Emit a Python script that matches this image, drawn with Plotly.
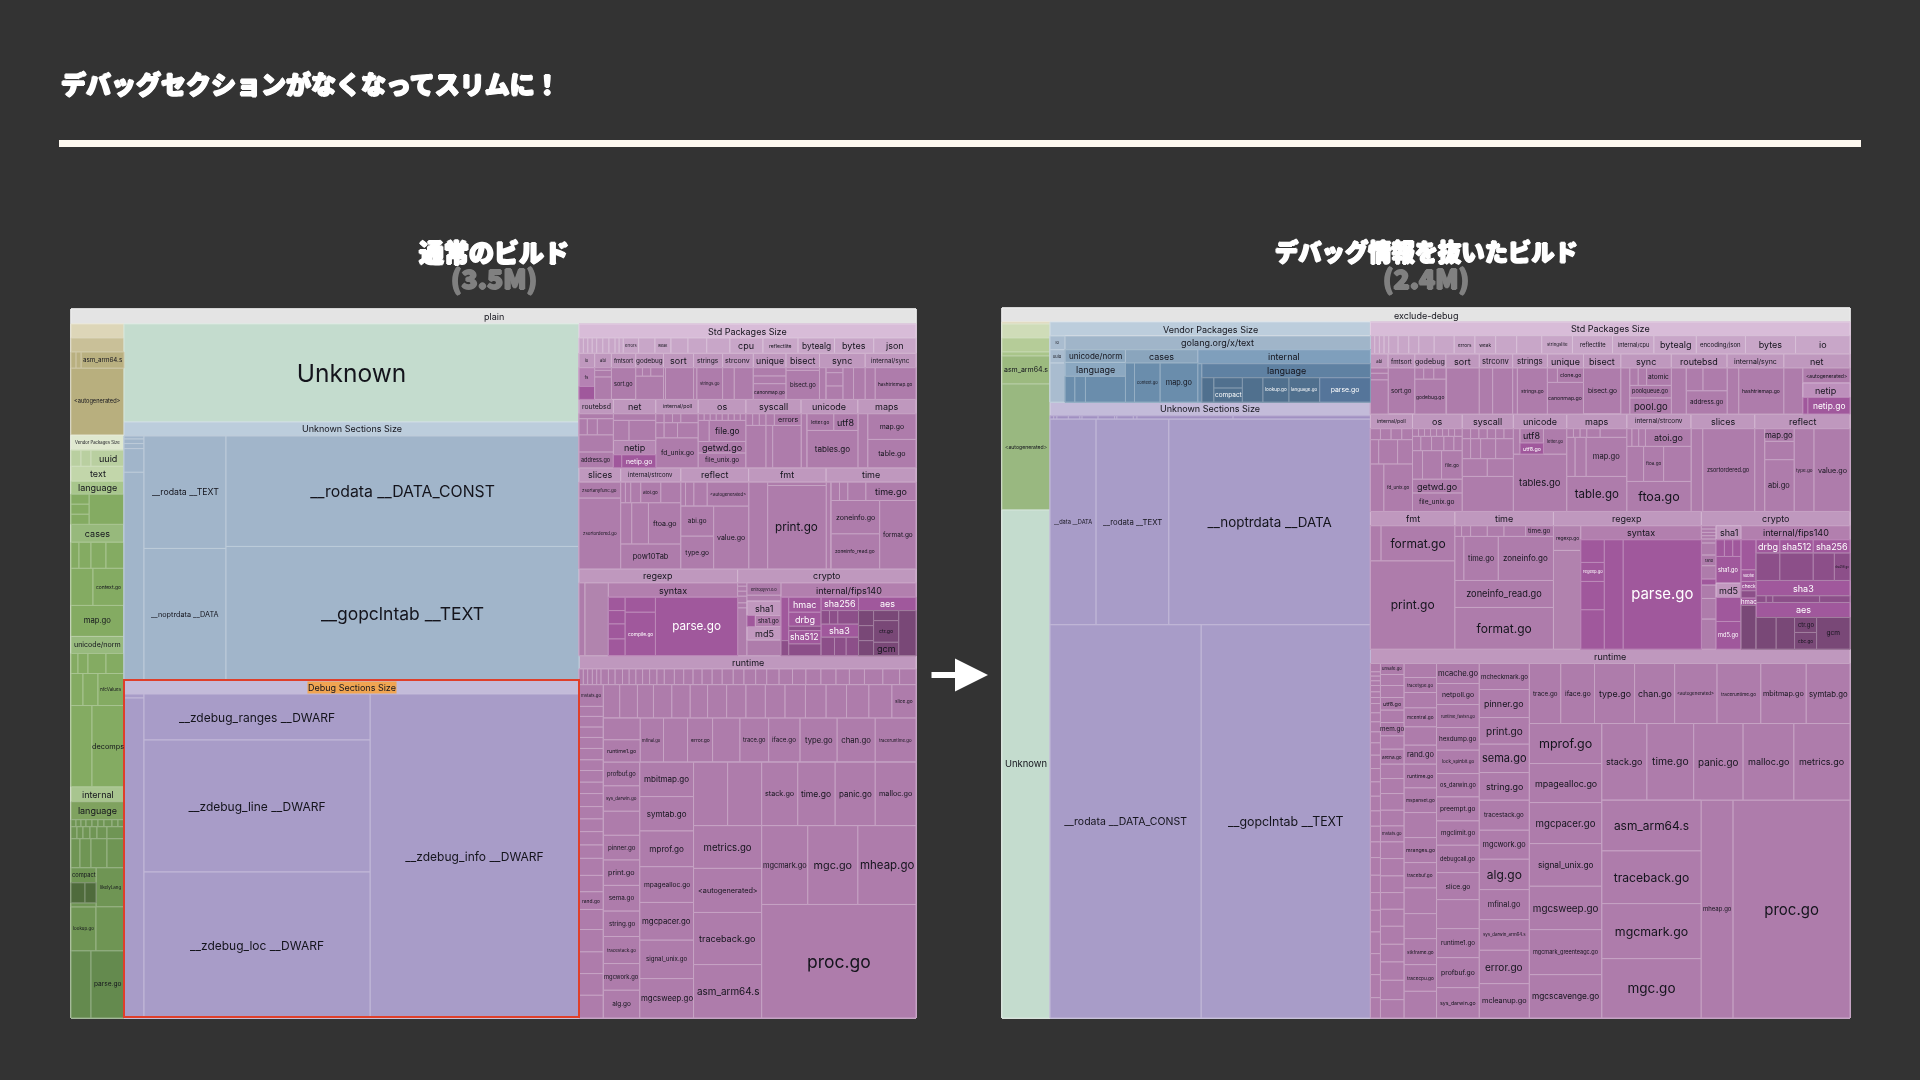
import math
import plotly.graph_objects as go

W, H_PX = 1920, 1080
TITLE = "デバッグセクションがなくなってスリムに！"
SUB_L, SUB_L2 = "通常のビルド", "(3.5M)"
SUB_R, SUB_R2 = "デバッグ情報を抜いたビルド", "(2.4M)"

# ---------- colours ----------
BAR = "#e4e4e4"
PUR, P_HDR, P_TOP, P_ROW = "#ae7cab", "#bf98be", "#d8bcd8", "#c8a6c8"
D1, D2, D3 = "#a0589c", "#8c4f89", "#794877"
SEC_B, SEC_BH = "#a1b5ca", "#bccddc"
SEC_P, SEC_PH = "#a89cc8", "#c3bbd9"
UNK = "#c4dcce"
B_PARSE = "#55759a"
B5 = "#50708e"
WHITE_ON = {D1, B_PARSE, B5}
INK = "#14141c"

# ---------- values, plain build ----------
p_left_asm = [5, 5, ("asm_arm64.s", 42)]
p_left_uuid = [10, 10, ("uuid", 33)]
p_left_cell3 = [10, 10, 10]
p_left_row1 = [8, 12, 15, 18]
p_left_ctx = [22, ("context.go", 31)]
p_left_row2 = [7, 10, 18, 18]
p_left_nfc = [12, 15, ("nfcValues", 26)]
p_left_dec = [21, ("decomps", 32)]
p_left_tiny = [5, 5, 5, 6, 6, 6, 8, 6, 6]
p_left_small = [6, 6, 7, 7, 10, 17]
p_left_row3 = [9, 11, 16, 17]
p_left_look = [("lookup.go", 25), 28]
p_left_parse = [20, ("parse.go", 33)]

p_sec_small = [3, 4.5, 5, 23.5, 206]
p_sec_cols = [("__rodata __TEXT", 112), ("__noptrdata __DATA", 131)]
p_sec_big = [("__rodata __DATA_CONST", 110), ("__gopclntab __TEXT", 133)]
p_dbg_cols = [("__zdebug_ranges __DWARF", 46), ("__zdebug_line __DWARF", 132), ("__zdebug_loc __DWARF", 146)]

p_a1 = [13, 13, 13, 13, 18, 18, 18, 12, 12, ("errors", 45), 48, ("weak", 47), 50, 55, 68,
        ("cpu", 97), ("reflectlite", 103), ("bytealg", 107), ("bytes", 115), ("json", 124)]
p_a_names = ["io", "abi", "fmtsort", "godebug", "sort", "strings", "strconv", "unique", "bisect", "sync", "internal/sync"]
p_a_w = [47, 50, 73, 83, 90, 87, 92, 98, 100, 137, 152]
p_b_names = ["routebsd", "net", "internal/poll", "os", "syscall", "unicode", "maps"]
p_b_w = [103, 127, 127, 143, 165, 170, 174]
p_c_names = ["slices", "internal/strconv", "reflect", "fmt", "time"]
p_c_w = [125, 180, 203, 232, 269]

p_rt_thin = [13, 13, 14, 13, 13, 22, 20, 22, 20, 20, 20, 21, 22, 22, 30, 28, 28, 27, 30, 30, 33, 32, 35, 33, 37, 40, 40, 45, 45, 40, 45, 55, 50, 49]
p_rt_left = [("mstats.go", 65), 30, 32, 31, 33, 34, 32, 35, 34, 39, 37, 38, 40, 40, 51, 49, ("rand.go", 53), 60, 67, 65, 65, 68]
p_rt_row1 = [49, 53, 48, 55, 55, 52, 57, 58, 58, 59, 61, 62, 61, 67, 69, ("slice.go", 72)]
p_rt_r2a = [65, ("runtime1.go", 67)]
p_rt_r2b = [("mfinal.go", 70), 72, ("error.go", 75), 82, ("trace.go", 86), ("iface.go", 94), ("type.go", 111), ("chan.go", 114), ("traceruntime.go", 122)]
p_rt_c1 = [("profbuf.go", 71), ("sys_darwin.go", 76), 72, ("pinner.go", 74), ("print.go", 76), ("sema.go", 77), ("string.go", 76), ("tracestack.go", 81), ("mgcwork.go", 80), ("alg.go", 83)]
p_rt_c2 = [("mbitmap.go", 103), ("symtab.go", 103), ("mprof.go", 107), ("mpagealloc.go", 107), ("mgcpacer.go", 113), ("signal_unix.go", 115), ("mgcsweep.go", 118)]
p_rt_top = [102, 102, ("stack.go", 108), ("time.go", 112), ("panic.go", 120), ("malloc.go", 122)]
p_rt_c3 = [("metrics.go", 128), ("<autogenerated>", 132), ("traceback.go", 156), ("asm_arm64.s", 160)]
p_rt_c4 = [("mgcmark.go", 138), ("mgc.go", 150), ("mheap.go", 174)]

# ---------- values, exclude-debug build ----------
e_lo = [("lo", 41), ("uuid", 40), 117]
e_norm_body = [25, 27, 102]
e_cases = [27, ("context.go", 77), ("map.go", 113)]
e_unk_thin = [8, 7, 25, 25, 5, 35, 36, 5, 36, 8, 210, 300]
e_unk_r1 = [("__data __DATA", 138), ("__rodata __TEXT", 218), ("__noptrdata __DATA", 604)]
e_unk_r2 = [("__rodata __DATA_CONST", 453), ("__gopclntab __TEXT", 507)]

e_a1 = [13, 14, 14, 14, 28, 32, 30, 46, 60, ("errors", 62), ("weak", 62), 63, 75, ("stringslite", 92), ("reflectlite", 120), ("internal/cpu", 124), ("bytealg", 127), ("encoding/json", 147), ("bytes", 150), ("io", 163)]
e_a_names = ["abi", "fmtsort", "godebug", "sort", "strconv", "strings", "unique", "bisect", "sync", "routebsd", "internal/sync", "net"]
e_a_w = [53, 80, 93, 100, 100, 104, 108, 112, 151, 167, 170, 198]
e_b_names = ["internal/poll", "os", "syscall", "unicode", "maps", "internal/strconv", "slices", "reflect"]
e_b_w = [126, 149, 153, 160, 180, 192, 191, 285]

e_rt_c0 = [25, 13, 14, 14, 19, 17, 18, 28, 27, 30, 33, 37, 40, 40, 43, 44, 46, 47, 47, 53, 52, 53, 65, 65, 63, 69, 61]
e_rt_c1 = [("unsafe.go", 33), 33, 36, ("utf8.go", 38), 37, ("mem.go", 40), 40, ("arena.go", 45), 43, 45, 50, 47, ("mstats.go", 48), 50, 52, 50, 50, 51, 54, 53, 55, 58, 55]
e_rt_c2 = [42, ("tracetype.go", 45), 46, ("mcentral.go", 57), 55, ("rand.go", 57), ("runtime.go", 71), ("mspanset.go", 74), 75, ("mranges.go", 75), ("tracebuf.go", 76), 77, 75, ("stkframe.go", 78), ("tracecpu.go", 80), 80]
e_rt_c3 = [("mcache.go", 60), ("netpoll.go", 63), ("runtime_fastsh.go", 69), ("hexdump.go", 68), ("lock_spinbit.go", 70), ("os_darwin.go", 70), ("preempt.go", 72), ("mgclimit.go", 73), ("debugcall.go", 82), ("slice.go", 81), 87, ("runtime1.go", 87), ("profbuf.go", 90), ("sys_darwin.go", 91)]
e_rt_c4 = [("mcheckmark.go", 78), ("pinner.go", 84), ("print.go", 80), ("sema.go", 85), ("string.go", 83), ("tracestack.go", 90), ("mgcwork.go", 87), ("alg.go", 91), ("mfinal.go", 90), ("sys_darwin_arm64.s", 92), ("error.go", 100), ("mcleanup.go", 103)]
e_rt_top = [("trace.go", 94), ("iface.go", 101), ("type.go", 120), ("chan.go", 120), ("<autogenerated>", 127), ("traceruntime.go", 131), ("mbitmap.go", 136), ("symtab.go", 131)]
e_rt_c5 = [("mprof.go", 120), ("mpagealloc.go", 117), ("mgcpacer.go", 123), ("signal_unix.go", 128), ("mgcsweep.go", 130), ("mgcmark_greenteagc.go", 135), ("mgcscavenge.go", 130)]
e_rt_r = [("stack.go", 135), ("time.go", 140), ("panic.go", 148), ("malloc.go", 152), ("metrics.go", 168)]
e_rt_c6 = [("asm_arm64.s", 152), ("traceback.go", 158), ("mgcmark.go", 165), ("mgc.go", 178)]
e_rt_last = [("mheap.go", 96), ("proc.go", 350)]
e_time_top = [20, 27, 50, 50, 65, ("time.go", 83)]

FS_PLAIN = {"__rodata __DATA_CONST": 15.8, "__gopclntab __TEXT": 17.5, "__zdebug_ranges __DWARF": 12,
            "__zdebug_line __DWARF": 12, "__zdebug_loc __DWARF": 12, "__zdebug_info __DWARF": 12,
            "__rodata __TEXT": 9.4, "print.go": 12, "Unknown": 24.5, "proc.go": 17.5}
FS_EXCL = {"__noptrdata __DATA": 13.4, "__rodata __DATA_CONST": 10.5, "__gopclntab __TEXT": 12.4,
           "__rodata __TEXT": 9.4, "__data __DATA": 6, "mheap.go": 6, "proc.go": 15, "mgc.go": 13.5,
           "Unknown": 9.5, "mprof.go": 12.5, "alg.go": 12, "print.go": 12, "sema.go": 11, "string.go": 11,
           "error.go": 11.5, "pinner.go": 10.5, "ftoa.go": 12.5, "table.go": 11.5, "pool.go": 11,
           "tables.go": 10, "format.go": 12}


def px(x):
    return x / W


def py(y):
    return 1 - y / H_PX


def mix_white(col, t=0.3):
    r, g, b = int(col[1:3], 16), int(col[3:5], 16), int(col[5:7], 16)
    return "#%02x%02x%02x" % tuple(int(v + (255 - v) * t) for v in (r, g, b))


# ---------- tree helpers ----------
def L(label, size, c=None):
    return {"label": label, "s": size, "c": c}


def H(size, items, c=None):
    return {"d": "H", "s": size, "kids": items, "c": c}


def V(size, items, c=None):
    return {"d": "V", "s": size, "kids": items, "c": c}


def norm(item):
    if isinstance(item, dict):
        return item
    if isinstance(item, tuple):
        return L(item[0], item[1])
    return L("", item)


class Map:
    def __init__(self, fs):
        self.ids, self.parents, self.labels, self.values, self.colors = [], [], [], [], []
        self.sizes, self.tcolors, self.notes = [], [], []
        self.fs, self.n = fs, 0

    def add(self, label, parent, value, color, size=9):
        self.n += 1
        i = f"n{self.n}"
        self.ids.append(i); self.parents.append(parent); self.labels.append(label)
        self.values.append(value); self.colors.append(color); self.sizes.append(size)
        self.tcolors.append("#ffffff" if color in WHITE_ON else INK)
        return i

    def font(self, label, w, h):
        n = max(len(label), 1)
        if h <= 22 and w / max(h, 1) > 1.4:
            f = min(9, 0.85 * h)
        else:
            f = 0.14 * math.sqrt(w * h) + 2
        f = self.fs.get(label, f)
        return round(min(f, 1.6 * w / n, 0.95 * h), 2)

    def leaf(self, label, parent, value, x, y, w, h, c):
        if not label:
            self.add("", parent, value, c)
            return
        f = self.font(label, w, h)
        fits = w - 6 >= 0.58 * f * len(label) and h - 6 >= 1.3 * f
        if fits:
            self.add(label, parent, value, c, f)
        else:  # the trace would shrink this label, so it goes on top of the cell
            self.add("", parent, value, c)
            self.notes.append(dict(text=label, x=px(x + w / 2), y=py(y + h / 2), xref="paper", yref="paper",
                                   xanchor="center", yanchor="middle", showarrow=False, borderpad=0,
                                   font=dict(family="Inter, Roboto, sans-serif", size=f,
                                             color="#ffffff" if c in WHITE_ON else INK)))

    def emit(self, node, parent, value, x, y, w, h, depth, inherited):
        c = node.get("c") or inherited
        if "kids" not in node:
            self.leaf(node["label"], parent, value, x, y, w, h, c)
            return
        want = "H" if depth % 2 == 0 else "V"
        me = self.add("", parent, 0, c)
        if node["d"] != want:
            me = self.add("", me, 0, c)
            depth += 1
        kids = [norm(k) for k in node["kids"]]
        tot = sum(k["s"] for k in kids)
        for k in kids:
            f = k["s"] / tot
            kw, kh = (w * f, h) if node["d"] == "H" else (w, h * f)
            self.emit(k, me, value * f, x, y, kw, kh, depth + 1, c)
            if node["d"] == "H":
                x += kw
            else:
                y += kh


def cols(names, widths, bodies, hc, hh, bh):
    """columns made of a header strip above a body"""
    return [V(w, [L(n, hh, hc), dict(b, s=bh)]) for n, w, b in zip(names, widths, bodies)]


G0, G1, G2 = "#84ab62", "#6f9554", "#648a4e"

# ---------- plain tree ----------
p_left = V(53, [
    L("", 14, "#ddd6b8"), L("", 14, "#c9c098"), H(16, p_left_asm, "#b9b080"),
    L("<autogenerated>", 67, "#b8af7e"), L("Vendor Packages Size", 15, "#dfe8cf"),
    H(16, p_left_uuid, "#b9cfa0"), L("text", 15, "#c2d6aa"), L("language", 13, "#a8c68c"),
    H(30, [V(18, p_left_cell3), 35], G0), L("cases", 18, "#97b97c"),
    H(26, p_left_row1, G0), H(37, p_left_ctx, G0), L("map.go", 31, G0),
    L("unicode/norm", 17, "#98ba7e"), H(20, p_left_row2, G0), H(32, p_left_nfc, G0),
    H(81, p_left_dec, G0), L("internal", 15, "#a8c58f"), L("language", 18, "#7fa25f"),
    H(7, p_left_tiny, "#6f9554"), H(12, p_left_small, "#6f9554"), H(29, p_left_row3, G1),
    H(39, [V(25, [L("compact", 15), H(20, [L("", 14, "#4f6b3c"), L("", 11, "#4f6b3c")], "#4f6b3c"), L("", 4)]), ("likelyLang", 28)], G1),
    H(44, p_left_look, G1), H(67, p_left_parse, G2)])
p_mid = V(455, [
    L("Unknown", 98, UNK), L("Unknown Sections Size", 14, SEC_BH),
    H(244, [V(20, p_sec_small), V(82, p_sec_cols), V(353, p_sec_big)], SEC_B),
    L("", 14, SEC_PH),
    H(324, [V(20, [4, 320]), V(226, p_dbg_cols), ("__zdebug_info __DWARF", 209)], SEC_P)])


def pa_bodies():
    return [
        V(1, [("fs", 55), L("", 38, D1)], "#b582b3"),
        V(1, [8, 20, 67]),
        L("sort.go", 1),
        V(1, [H(25, [20, 25, 38]), 70]),
        H(1, [6, 84]),
        H(1, [10, ("strings.go", 77)]),
        H(1, [35, 57]),
        V(1, [25, 23, ("canonmap.go", 47)]),
        V(1, [8, ("bisect.go", 87)]),
        H(1, [20, V(50, [15, 40, 40]), 32, 35]),
        H(1, [30, ("hashtriemap.go", 122)]),
    ]


def pb_bodies():
    return [
        V(1, [15, H(48, [25, 30, 48]), 52, ("address.go", 47)]),
        V(1, [20, H(60, [47, 80]), L("netip", 43, "#b587b3"), H(39, [L("", 25, D1), L("netip.go", 102, D1)])]),
        V(1, [H(27, [25, 25, 25, 52]), H(45, [25, 40, 62]), ("fd_unix.go", 90)]),
        V(1, [H(20, [18, 18, 18, 18, 18, 18, 18, 17]), H(63, [33, ("file.go", 110)]), ("getwd.go", 35), ("file_unix.go", 44)]),
        V(1, [H(35, [20, 20, 20, 25, ("errors", 80)]), H(127, [60, 20, 85])]),
        H(1, [18, V(152, [H(50, [("letter.go", 80), ("utf8", 72)]), ("tables.go", 112)])]),
        H(1, [30, V(144, [("map.go", 77), ("table.go", 85)])]),
    ]


def pc_bodies():
    return [
        V(1, [("zsortanyfunc.go", 48), ("zsortordered.go", 212)]),
        V(1, [H(62, [14, 16, 30, ("atoi.go", 60), 60]), H(123, [33, 50, ("ftoa.go", 97)]), ("pow10Tab", 75)]),
        V(1, [H(72, [14, 25, 40, ("<autogenerated>", 124)]), H(188, [V(98, [("abi.go", 90), ("type.go", 98)]), ("value.go", 105)])]),
        H(1, [57, V(175, [10, ("print.go", 250)])]),
        H(1, [15, V(254, [H(55, [25, 25, 54, ("time.go", 150)]), H(205, [V(145, [("zoneinfo.go", 100), ("zoneinfo_read.go", 105)]), ("format.go", 109)])])]),
    ]


p_right = V(337, [
    L("Std Packages Size", 42, P_TOP), H(46, p_a1, P_ROW),
    H(138, cols(p_a_names, p_a_w, pa_bodies(), P_HDR, 43, 95), PUR),
    H(205, cols(p_b_names, p_b_w, pb_bodies(), P_HDR, 43, 162), PUR),
    H(303, cols(p_c_names, p_c_w, pc_bodies(), P_HDR, 43, 260), PUR),
    H(260, [
        V(475, [L("regexp", 42, P_HDR), H(218, [L("", 18, PUR), L("", 70, "#b184ae"), V(387, [
            L("syntax", 43, "#b27fae"),
            H(175, [V(50, [40, 40, 45, 50]), V(90, [45, ("compile.go", 130)]), ("parse.go", 245)], D1)])], PUR)]),
        V(534, [L("crypto", 42, P_HDR), H(218, [
            V(28, [10, 15, 15, 20, 15, 143]),
            V(102, [("entropy/v1.0.0", 36), 17, L("sha1", 42, "#c198bf"), H(32, [L("", 25, D1), L("sha1.go", 77, "#b27fae")]), L("md5", 40, "#c198bf"), 45]),
            V(404, [L("internal/fips140", 43, "#b27fae"), H(175, [
                V(23, [L("", 130, D1), L("", 45, D2)]),
                V(97, [L("hmac", 45, D1), L("drbg", 42, D1), L("", 13, D2), L("sha512", 40, D1), L("", 35, D2)]),
                V(112, [L("sha256", 40, D1), H(40, [25, 25, 62], D2), L("sha3", 40, D1), H(55, [40, 35, 37], D2)]),
                V(172, [L("aes", 40, D1), H(135, [V(45, [45, 45, 45]), V(75, [30, ("ctr.go", 65), ("gcm", 40)]), 52], D3)]),
            ], D1)]),
        ], PUR)]),
    ], PUR),
    L("runtime", 40, P_HDR),
    V(1046, [
        H(47, p_rt_thin, PUR),
        H(998, [
            V(73, p_rt_left),
            V(936, [
                H(100, p_rt_row1),
                H(132, [V(110, p_rt_r2a)] + p_rt_r2b),
                H(766, [V(109, p_rt_c1), V(161, p_rt_c2), V(666, [
                    H(190, p_rt_top),
                    H(576, [V(204, p_rt_c3), V(462, [H(236, p_rt_c4), ("proc.go", 340)])]),
                ])]),
            ]),
        ]),
    ], PUR),
], PUR)

plain_tree = V(1, [L("plain", 15, BAR), H(694, [p_left, p_mid, p_right])])

# ---------- exclude-debug tree ----------
B1, B2, B3, B4 = "#a0b5c9", "#8aa5bd", "#6a8dac", "#5f81a2"
e_left = V(48, [
    L("", 2, "#ddd6b8"), L("", 14, "#cfdcb8"), L("", 14, "#b5cc98"), L("", 4, "#a9c58a"),
    L("asm_arm64.s", 28, "#9cba7f"), L("<autogenerated>", 126, "#99b880"), L("Unknown", 508, UNK)])
e_mid = V(320, [
    L("Vendor Packages Size", 42, SEC_BH),
    H(198, [
        V(45, e_lo, "#a9bccf"),
        V(915, [L("golang.org/x/text", 41, B1), H(157, [
            V(181, [L("unicode/norm", 38, B2), L("language", 42, "#8ba8c1"), H(77, e_norm_body, B3)]),
            V(217, [L("cases", 40, B2), H(117, e_cases, B3)]),
            V(517, [L("internal", 42, "#7f9fbc"), H(115, [12, V(505, [L("language", 42, B4), H(73, [L("", 36, B5), V(85, [31, L("compact", 42, B5)], B5), L("", 62, B5), L("lookup.go", 78, B5), L("language.go", 92, B5), L("parse.go", 152, B_PARSE)], B5)])], B3)]),
        ], B3)]),
    ]),
    L("Unknown Sections Size", 41, SEC_PH),
    H(10, e_unk_thin, "#a190c2"),
    H(616, e_unk_r1, SEC_P),
    H(1178, e_unk_r2, SEC_P),
])

e1 = [
    V(1, [16, 20, 103]), L("sort.go", 1), V(1, [H(33, [22, 25, 30]), ("godebug.go", 105)]), H(1, [2, 98]),
    H(1, [40, 60]), H(1, [14, ("strings.go", 90)]), V(1, [H(43, [30, ("clone.go", 78)]), ("canonmap.go", 95)]),
    L("bisect.go", 1),
    H(1, [27, V(124, [H(52, [25, 25, ("atomic", 74)]), ("poolqueue.go", 38), ("pool.go", 48)])]),
    H(1, [45, V(122, [H(68, [50, 72]), ("address.go", 70)])]),
    H(1, [35, ("hashtriemap.go", 135)]),
    H(1, [57, V(141, [("<autogenerated>", 45), L("netip", 43, "#bd90bc"), H(50, [L("", 15, D1), L("netip.go", 126, D1)])])]),
]
e2 = [
    V(1, [H(33, [30, 32, 32, 32]), H(73, [25, 57, 45]), H(142, [40, ("fd_unix.go", 85)])]),
    V(1, [H(23, [18, 18, 18, 18, 18, 18, 18, 23]), H(43, [25, 32, 37, 30, 25]), H(85, [30, 57, ("file.go", 62)]), ("getwd.go", 42), ("file_unix.go", 55)]),
    V(1, [H(30, [25, 25, 25, 25, 25, 28]), H(60, [25, 30, 45, 53]), H(53, [75, 78]), 105]),
    V(1, [H(76, [20, V(70, [("utf8", 43), L("utf8.go", 33, D1)]), ("letter.go", 70)]), ("tables.go", 172)]),
    V(1, [H(26, [20, 20, 20, 40, 80]), H(117, [25, 33, ("map.go", 122)]), ("table.go", 105)]),
    V(1, [H(53, [15, 20, 20, ("atoi.go", 135)]), H(105, [50, ("ftoa.go", 60), 82]), ("ftoa.go", 90)]),
    H(1, [35, ("zsortordered.go", 155)]),
    H(1, [30, V(88, [("map.go", 38), 55, ("abi.go", 155)]), ("type.go", 60), ("value.go", 108)]),
]
e3 = [
    V(253, [L("fmt", 43, P_HDR), V(370, [H(105, [32, ("format.go", 221)]), ("print.go", 265)], PUR)]),
    V(295, [L("time", 43, P_HDR), V(370, [H(32, e_time_top), H(132, [27, ("time.go", 103), ("zoneinfo.go", 165)]), ("zoneinfo_read.go", 81), ("format.go", 125)], PUR)]),
    V(443, [L("regexp", 43, P_HDR), H(370, [
        V(82, [("regexp.go", 74), 296], "#b182ae"),
        V(361, [L("syntax", 42, "#b27fae"), H(328, [V(70, [68, ("regexp.go", 57), 85, 118]), 57, ("parse.go", 234)], D1)]),
    ], PUR)]),
    V(445, [L("crypto", 43, P_HDR), H(370, [
        V(44, [10, 10, 10, 10, 12, 36, ("rand", 32), 40, L("", 18, D1), 40, 62, 90]),
        V(75, [L("sha1", 42, "#c198bf"), H(50, [25, 25, 25], D1), L("sha1.go", 80, D1), L("md5", 43, "#c198bf"), L("", 72, D1), L("md5.go", 83, D1)], PUR),
        V(326, [L("internal/fips140", 42, "#b27fae"), H(328, [
            V(45, [L("", 90, D1), ("subtle", 35), ("check", 28), L("", 22, D2), ("hmac", 22), L("", 131, D3)], D1),
            V(281, [
                H(40, [("drbg", 71), ("sha512", 100), ("sha256", 110)], D1),
                H(82, [V(71, [1]), V(100, [1]), V(63, [1]), ("sha256.go", 47)], D2),
                L("sha3", 46, D1), H(20, [30, 20, 140, 91], D2), L("aes", 45, D1),
                H(95, [V(60, [1]), V(55, [1]), V(66, [("ctr.go", 45), ("cbc.go", 50)]), V(100, [("gcm", 95)])], D3),
            ]),
        ], D1)]),
    ], PUR)]),
]

e_right = V(479, [
    L("Std Packages Size", 41, P_TOP), H(55, e_a1, P_ROW),
    H(180, cols(e_a_names, e_a_w, e1, P_HDR, 42, 138), PUR),
    H(292, cols(e_b_names, e_b_w, e2, P_HDR, 44, 248), PUR),
    H(413, e3, PUR),
    L("runtime", 43, P_HDR),
    H(1063, [
        V(30, e_rt_c0), V(71, e_rt_c1), V(97, e_rt_c2), V(128, e_rt_c3), V(150, e_rt_c4),
        V(960, [H(180, e_rt_top), H(883, [V(217, e_rt_c5), V(743, [
            H(230, e_rt_r), H(653, [V(297, e_rt_c6)] + e_rt_last)])])]),
    ], PUR),
], PUR)

excl_tree = V(1, [L("exclude-debug", 14, BAR), H(696, [e_left, e_mid, e_right])])

cell_notes = []


def build(tree, x0, x1, top, bottom, fs):
    m = Map(fs)
    m.emit(tree, "", 1e6, x0, top, x1 - x0, bottom - top, 0, BAR)
    cell_notes.extend(m.notes)
    return go.Treemap(
        ids=m.ids, parents=m.parents, labels=m.labels, values=m.values, branchvalues="remainder",
        sort=False, textinfo="label", hoverinfo="skip", textposition="middle center",
        tiling=dict(packing="slice-dice", pad=0),
        pathbar=dict(visible=False),
        marker=dict(colors=m.colors, depthfade=False, pad=dict(t=0, l=0, r=0, b=0),
                    line=dict(color=[mix_white(c, 0.3) for c in m.colors], width=1)),
        textfont=dict(family="Inter, Roboto, sans-serif", size=m.sizes, color=m.tcolors),
        domain=dict(x=[x0 / W, x1 / W], y=[1 - bottom / H_PX, 1 - top / H_PX]),
    )


fig = go.Figure([build(plain_tree, 71, 916, 309, 1018, FS_PLAIN),
                 build(excl_tree, 1002, 1850, 308, 1018, FS_EXCL)])

JP = "Noto Sans CJK JP"


def note(text, x, y, size, color="#ffffff", xanchor="center"):
    sh = f"1px 0 {color},-1px 0 {color},0 1px {color},0 -1px {color}"
    return dict(text=text, x=px(x), y=py(y), xref="paper", yref="paper", showarrow=False,
                xanchor=xanchor, yanchor="middle",
                font=dict(family=JP, size=size, color=color, weight=900, shadow=sh))


annos = cell_notes + [
    note(TITLE, 59, 83, 25, xanchor="left"),
    note(SUB_L, 494, 251, 25), note(SUB_L2, 494, 277, 26.5, "#808080"),
    note(SUB_R, 1426, 251, 23.3), note(SUB_R2, 1426, 277, 26.5, "#808080"),
    dict(text="Debug Sections Size", x=px(351.5), y=py(687), xref="paper", yref="paper", showarrow=False,
         xanchor="center", yanchor="middle", bgcolor="#f0a552", borderpad=0,
         font=dict(family="Inter, sans-serif", size=9, color=INK)),
    dict(x=px(988), y=py(675), ax=-58, ay=0, xref="paper", yref="paper", axref="pixel", ayref="pixel",
         text="", showarrow=True, arrowhead=2, arrowsize=1.1, arrowwidth=6, arrowcolor="#ffffff"),
]
shapes = [
    dict(type="rect", xref="paper", yref="paper", x0=px(59), x1=px(1861), y0=py(147), y1=py(140),
         fillcolor="#fef9f0", line=dict(width=0)),
    dict(type="rect", xref="paper", yref="paper", x0=px(124), x1=px(579), y0=py(1017), y1=py(680),
         fillcolor="rgba(0,0,0,0)", line=dict(color="#df3f2a", width=2)),
]
fig.update_layout(width=W, height=H_PX, margin=dict(l=0, r=0, t=0, b=0), paper_bgcolor="#333333",
                  annotations=annos, shapes=shapes, showlegend=False)
fig.write_html("out.html", config=dict(displayModeBar=False),
               post_script="document.body.style.margin='0';document.body.style.background='#333333';"
                           "document.body.style.overflow='hidden';"
                           "document.querySelectorAll('.treemaplayer,.annotation').forEach(e=>e.style.filter='blur(0.4px)');")
